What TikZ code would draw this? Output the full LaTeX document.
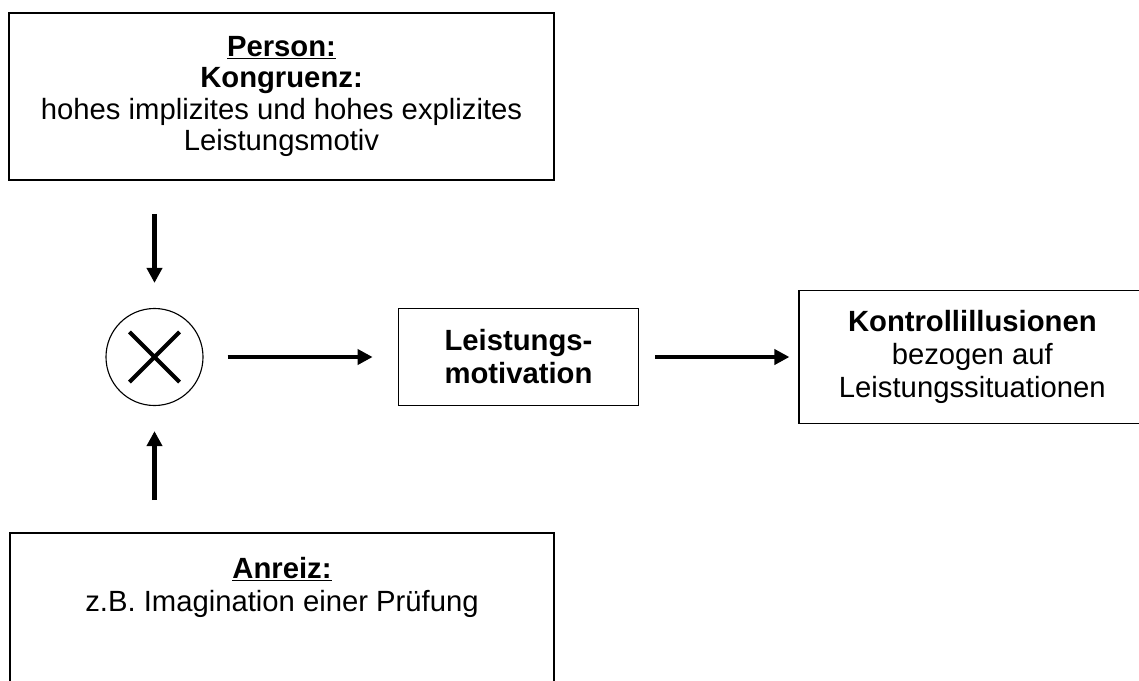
\documentclass[tikz,border=0pt]{standalone}
\usepackage{fontspec}
\setmainfont{Liberation Sans}
\usetikzlibrary{arrows.meta,positioning}

\begin{document}
\begin{tikzpicture}[x=0.025cm, y=-0.025cm, >={Triangle[length=10.7pt,width=10.7pt]}]
    \tikzstyle{block} = [rectangle, draw, line width=1.2pt, align=center, inner sep=0pt, font=\fontsize{20.8}{23.5}\selectfont]
    \tikzstyle{line} = [draw, ->, line width=3.3pt]
    \tikzstyle{mult} = [circle, draw, line width=0.8pt, minimum size=2.425cm, inner sep=0pt,
        path picture={\draw[line width=3pt]
            ([shift={(-0.625cm,-0.625cm)}]path picture bounding box.center) -- ([shift={(0.625cm,0.625cm)}]path picture bounding box.center)
            ([shift={(-0.625cm,0.625cm)}]path picture bounding box.center) -- ([shift={(0.625cm,-0.625cm)}]path picture bounding box.center);}]

    \useasboundingbox (0,0) rectangle (1139,680);

    \node [block, minimum width=13.625cm, minimum height=4.175cm, font=\fontsize{20.8}{22.4}\selectfont] (person) at (281.5,96.5) {\textbf{\underline{Person:}}\\\textbf{Kongruenz:}\\hohes implizites und hohes explizites\\Leistungsmotiv};
    \node [mult] (prod) at (154.5,357) {};
    \node [block, minimum width=6cm, minimum height=2.425cm, right=4.85cm of prod] (motiv) {\textbf{Leistungs-}\\\textbf{motivation}};
    \node [block, minimum width=8.65cm, minimum height=3.325cm, right=3.975cm of motiv] (kontroll) {\textbf{Kontrollillusionen}\\bezogen auf\\Leistungssituationen};
    \node [block, anchor=north, inner ysep=0.6cm] (anreiz) at (282,532) {\parbox[t][4cm][t]{13.6cm}{\centering\textbf{\underline{Anreiz:}}\\z.B. Imagination einer Prüfung}};

    \path [line, shorten <=0.825cm, shorten >=0.625cm] (person.south -| prod) -- (prod);
    \path [line, shorten <=0.8cm, shorten >=0.625cm] (anreiz.north -| prod) -- (prod);
    \path [line, shorten <=0.6cm, shorten >=0.625cm] (prod) -- (motiv);
    \path [line, shorten <=0.4cm, shorten >=0.225cm] (motiv) -- (kontroll);
\end{tikzpicture}
\end{document}
